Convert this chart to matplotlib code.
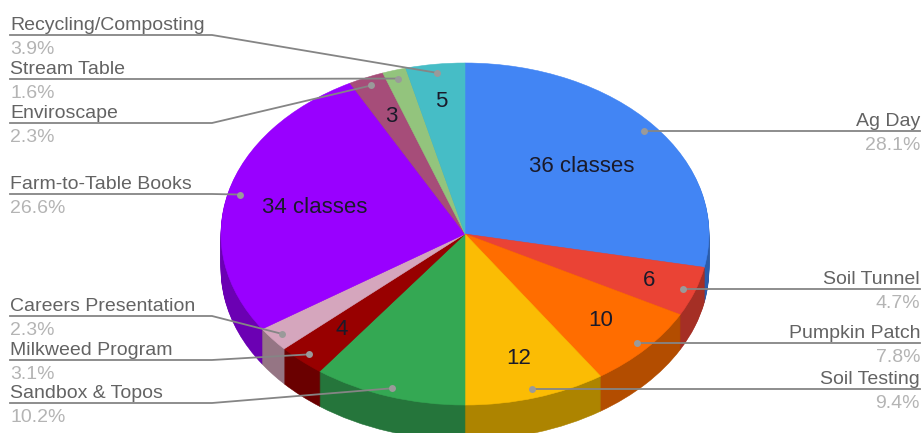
import numpy as np
import matplotlib
matplotlib.use("Agg")
import matplotlib.pyplot as plt

categories = ["Ag Day", "Soil Tunnel", "Pumpkin Patch", "Soil Testing", "Sandbox & Topos",
              "Milkweed Program", "Careers Presentation", "Farm-to-Table Books",
              "Enviroscape", "Stream Table", "Recycling/Composting"]
values = [36, 6, 10, 12, 13, 4, 3, 34, 3, 2, 5]
percent_labels = ["28.1%", "4.7%", "7.8%", "9.4%", "10.2%", "3.1%", "2.3%", "26.6%", "2.3%", "1.6%", "3.9%"]
slice_labels = ["36 classes", "6", "10", "12", "", "4", "", "34 classes", "3", "", "5"]
top_colors = ["#4285f4", "#ea4335", "#ff6d00", "#fbbc04", "#34a853", "#980000",
              "#d5a6bd", "#9900ff", "#a64d79", "#93c47d", "#46bdc6"]
side_colors = ["#2a5cab", "#a52f25", "#b34d00", "#ad8400", "#25753b", "#6a0000",
               "#957584", "#6b00b3", "#743655", "#678957", "#31848b"]
label_radius = [0.62, 0.80, 0.75, 0.76, 0, 0.75, 0, 0.635, 0.75, 0, 0.78]

# Layout, in reference pixels
W, H = 921, 433
CX, CY, RX, RY, DEPTH = 465, 234, 244, 171, 35
leader_y = [None, None, None, None, 403, 360, 316, 194, 123, 79, 35]
TEXT_LEFT, TEXT_RIGHT, BEND = 10, 920, 212

plt.rcParams["font.family"] = ["Liberation Sans", "DejaVu Sans"]
fig = plt.figure(figsize=(W / 100, H / 100), dpi=100, facecolor="white")

ax = fig.add_axes([0, 0, 1, 1])


def draw_layer(colors, offset):
    wedges, _ = ax.pie(values, colors=colors, startangle=90, counterclock=False, radius=1,
                       center=(0, -offset / RY), normalize=True)
    for w in wedges:
        w.set_edgecolor(w.get_facecolor())
        w.set_linewidth(0.4)


for k in range(DEPTH, 0, -1):
    draw_layer(side_colors, k)
draw_layer(top_colors, 0)
ax.set_aspect("auto")
ax.set_xlim(-CX / RX, (W - CX) / RX)
ax.set_ylim(-(H - CY) / RY, CY / RY)
ax.axis("off")

ov = fig.add_axes([0, 0, 1, 1], facecolor="none")
ov.set_xlim(0, W)
ov.set_ylim(H, 0)
ov.axis("off")

cum = np.cumsum(values)
total = cum[-1]
mid = (cum - np.array(values) / 2) / total * 2 * np.pi


def pos(theta, r):
    return CX + r * RX * np.sin(theta), CY - r * RY * np.cos(theta)


for i, name in enumerate(categories):
    dx, dy = pos(mid[i], 0.95)
    ly = leader_y[i]
    if ly is not None:
        xs, ys = [TEXT_LEFT, BEND, dx], [ly, ly, dy]
        tx, ha = TEXT_LEFT, "left"
    else:
        ly = dy
        xs, ys = [TEXT_RIGHT, dx], [ly, dy]
        tx, ha = TEXT_RIGHT, "right"
    ov.plot(xs, ys, color="#858585", lw=1.3, solid_joinstyle="round")
    ov.plot([dx], [dy], "o", color="#9a9a9a", ms=5, mew=0)
    ov.text(tx, ly - 5, name, ha=ha, va="baseline", fontsize=14, color="#636363")
    ov.text(tx, ly + 19, percent_labels[i], ha=ha, va="baseline", fontsize=14, color="#b4b4b4")
    if slice_labels[i]:
        sx, sy = pos(mid[i], label_radius[i])
        ov.text(sx, sy, slice_labels[i], ha="center", va="center", fontsize=16, color="#1a1a2a")

fig.savefig("out.png", dpi=100, facecolor="white")
